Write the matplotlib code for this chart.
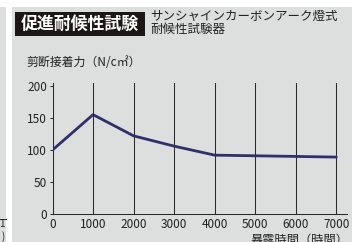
#!/usr/bin/env python3
"""Accelerated weathering test: shear bond strength vs exposure time."""

import matplotlib
matplotlib.use('Agg')
import matplotlib.pyplot as plt
from matplotlib.patches import Rectangle

# exposure hours and shear bond strength (N/cm2)
hours = [0, 1000, 2000, 3000, 4000, 5000, 6000, 7000]
strength = [100, 155, 122, 106, 92, 91, 90, 89]
x_ticks = [0, 1000, 2000, 3000, 4000, 5000, 6000, 7000]
y_ticks = [0, 50, 100, 150, 200]

title = '促進耐候性試験'
subtitle = 'サンシャインカーボンアーク燈式\n耐候性試験器'
y_label = '剪断接着力（N/c㎡）'
x_label = '暴露時間（時間）'

W, H = 352, 242
panel = '#dcdfdd'
ink = '#2a2a2a'
text_col = '#222222'

plt.rcParams['font.family'] = ['Noto Sans CJK JP', 'DejaVu Sans']


def fx(px):
    return px / W


def fy(py):
    # pixel rows are counted from the top
    return 1 - py / H


fig = plt.figure(figsize=(W / 100, H / 100), dpi=100)
fig.patch.set_facecolor('white')

# grey panel and the sliver of the neighbouring panel on the left
fig.add_artist(Rectangle((fx(12), 0), 1 - fx(12), fy(7), transform=fig.transFigure,
                         facecolor=panel, edgecolor='none', zorder=-2))
fig.add_artist(Rectangle((0, 0), fx(5.5), fy(7), transform=fig.transFigure,
                         facecolor=panel, edgecolor='none', zorder=-2))
fig.add_artist(plt.Line2D([0, fx(5.5)], [fy(219), fy(219)], transform=fig.transFigure,
                          color=ink, lw=0.7, zorder=-1))
fig.text(fx(5), fy(224), '1', color=text_col, fontsize=7, ha='right', va='center')
fig.text(fx(5), fy(237), ')', color=text_col, fontsize=7, ha='right', va='center')

# title block
fig.add_artist(Rectangle((fx(15), fy(35.5)), fx(130), 23.5 / H, transform=fig.transFigure,
                         facecolor='#1c1614', edgecolor='none', zorder=-1))
fig.text(fx(80), fy(23.5), title, color='white', fontsize=12.2, fontweight='bold',
         ha='center', va='center')
fig.text(fx(150), fy(23), subtitle, color=text_col, fontsize=9,
         ha='left', va='center', linespacing=1.05)
fig.text(fx(26), fy(62), y_label, color=text_col, fontsize=8.6, ha='left', va='center')

# plot area: x=0 at 52.5px, 7000 at 336.3px; y=0 at 214.3px, 200 at 85.7px
x_max = 7270
y_max = 204
ax = fig.add_axes([fx(52.5), fy(214.3), (336.3 - 52.5) / 7000 * x_max / W,
                   128.6 / 200 * y_max / H])
ax.set_zorder(5)
ax.set_facecolor('none')

ax.plot(hours, strength, color='#2f2f6b', lw=2.0, solid_capstyle='round', zorder=3)

ax.set_xlim(0, x_max)
ax.set_ylim(0, y_max)
ax.set_xticks(x_ticks)
ax.set_yticks(y_ticks)
ax.grid(axis='x', color=ink, lw=0.75)
ax.tick_params(axis='x', length=0, pad=2.5, labelsize=8.5, colors=text_col)
ax.tick_params(axis='y', length=2.5, width=0.75, color=ink, pad=1.5,
               labelsize=8.5, labelcolor=text_col)
for side in ['top', 'right']:
    ax.spines[side].set_visible(False)
for side in ['left', 'bottom']:
    ax.spines[side].set_color(ink)
    ax.spines[side].set_linewidth(0.75)

fig.text(fx(349), fy(240.5), x_label, color=text_col, fontsize=8.8, ha='right', va='center')

plt.savefig('out.png', dpi=100)
